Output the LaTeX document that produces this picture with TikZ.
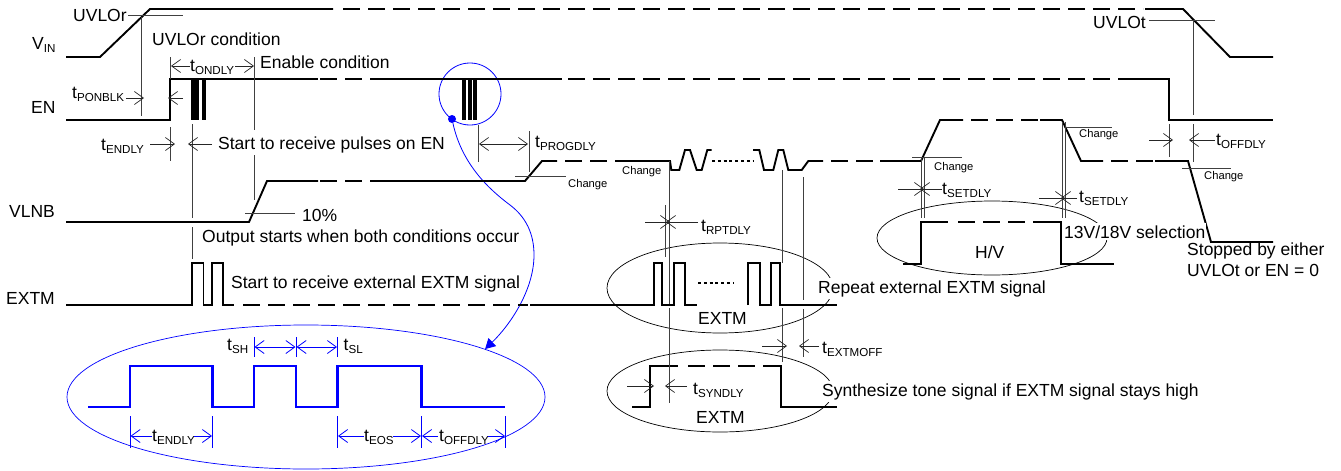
\documentclass[tikz,border=0pt]{standalone}
\usepackage{fontspec}
\setmainfont{Liberation Sans}
\usetikzlibrary{arrows.meta,shapes.geometric}
\newcommand{\lowtxt}[2]{#1\raisebox{-3pt}{\fontsize{11.6}{12}\selectfont #2}}
\begin{document}
\begin{tikzpicture}[x=1pt,y=-1pt,
  wave/.style = {line width=1.9pt,line join=miter},
  dashwave/.style = {wave,dash pattern=on 17pt off 8pt},
  guide/.style = {line width=0.75pt,black!75},
  dimline/.style = {line width=0.7pt,black!85,>={Straight Barb[length=9pt,width=13pt]}},
  lbl/.style = {anchor=base west,inner sep=0pt,font=\fontsize{17.5}{20.5}\selectfont},
  lblw/.style = {lbl,fill=white,inner ysep=2pt,inner xsep=1pt},
  small/.style = {anchor=base west,inner sep=0pt,font=\fontsize{11.2}{13}\selectfont},
  oval/.style = {draw,ellipse,line width=0.7pt,inner sep=0pt},
  bluewave/.style = {wave,blue,line width=2.2pt},
  blueguide/.style = {line width=0.8pt,blue},
  bluedim/.style = {line width=0.8pt,blue,>={Straight Barb[length=9pt,width=13pt]}}]
\useasboundingbox (0,0) rectangle (1341,471);
\node[oval,minimum width=226pt,minimum height=90pt] (ovalrepeat) at (720,288) {};
\node[oval,minimum width=226pt,minimum height=82pt] (ovalsynth) at (720,391) {};
\node[oval,minimum width=230pt,minimum height=74pt] (ovalhv) at (992,238) {};
\node[oval,blue,minimum width=478pt,minimum height=144pt] (ovalzoom) at (306,397) {};
\node[circle,draw=blue,line width=0.8pt,minimum size=62pt,inner sep=0pt] (circzoom) at (470,94) {};
\node[circle,fill=blue,minimum size=8pt,inner sep=0pt] (dotzoom) at (452,119) {};
\draw[blue,line width=0.8pt,-{Triangle[length=10pt,width=11pt]}] (dotzoom) .. controls (462,165) and (490,190) .. (510,205) .. controls (530,220) and (534,240) .. (534,255) .. controls (534,290) and (510,325) .. (ovalzoom.15);
\draw[wave] (66,57) -- (100,57) -- (150,9) -- (333,9);
\draw[dashwave] (343,9) -- (1143,9);
\draw[wave] (1145,9) -- (1183,9) -- (1230,57) -- (1273,57);
\draw[wave] (66,120) -- (170,120) -- (170,79) -- (318,79);
\draw[dashwave] (320,79) -- (373,79);
\draw[wave] (373,79) -- (562,79);
\draw[dashwave] (568,79) -- (1127,79);
\draw[wave] (1127,79) -- (1169,79) -- (1169,120) -- (1273,120);
\foreach \x in {193,197.3,204.2,463.7,470.3,474.7} \draw[line width=3.8pt] (\x,79) -- (\x,120);
\draw[wave] (66,222) -- (249,222) -- (267,181) -- (318,181);
\draw[dashwave] (320,181) -- (373,181);
\draw[wave] (373,181) -- (525,181) -- (542,161) -- (557,161);
\draw[dashwave] (565,161) -- (620,161);
\draw[wave] (620,161) -- (670,161) -- (671.3,170) -- (679.3,170) -- (685,150) -- (690,150) -- (696.7,170) -- (701.7,170) -- (707.3,150) -- (711.7,150);
\draw[line width=1.6pt,dash pattern=on 3pt off 2.8pt] (712,161) -- (753,161);
\draw[wave] (753,150) -- (759.3,150) -- (764,170) -- (773.3,170) -- (778.3,150) -- (783.3,150) -- (788.3,170) -- (801.7,170) -- (808.3,161) -- (823,161);
\draw[dashwave] (831,161) -- (880,161);
\draw[wave] (880,161) -- (921,161) -- (940,120) -- (963,120);
\draw[dashwave] (971,120) -- (1040,120);
\draw[wave] (1040,120) -- (1062,120) -- (1081,161) -- (1103,161);
\draw[dashwave] (1111,161) -- (1155,161);
\draw[wave] (1155,161) -- (1188,161) -- (1211,242) -- (1273,242);
\draw[wave] (66,305) -- (192,305) -- (192,263) -- (203.5,263) -- (203.5,305) -- (212,305) -- (212,263) -- (223,263) -- (223,305) -- (234,305);
\draw[dashwave] (243,305) -- (528,305);
\draw[wave] (530,305) -- (654,305) -- (654,263) -- (662,263) -- (662,305) -- (674,305) -- (674,263) -- (685,263) -- (685,305) -- (697,305);
\draw[line width=1.2pt,dash pattern=on 3pt off 2.8pt] (698,283) -- (733,283);
\draw[wave] (748,305) -- (748,263) -- (760,263) -- (760,305) -- (771,305) -- (771,263) -- (780,263) -- (780,305) -- (837,305);
\draw[wave] (632,407) -- (650,407) -- (650,366) -- (678,366);
\draw[dashwave] (688,366) -- (773,366);
\draw[wave] (773,366) -- (781,366) -- (781,407) -- (837,407);
\draw[wave] (903,264) -- (921,264) -- (921,222) -- (948,222);
\draw[dashwave] (958,222) -- (1045,222);
\draw[wave] (1045,222) -- (1061,222) -- (1061,264) -- (1114,264);
\draw[guide] (128,15) -- (183,15);
\draw[guide] (141,17) -- (141,116);
\draw[guide] (170,57) -- (170,79);
\draw[guide] (170,127) -- (170,161);
\draw[guide] (192,124) -- (192,218);
\draw[guide] (192,227) -- (192,259);
\draw[guide] (254,57) -- (254,130);
\draw[guide] (254,155) -- (254,200);
\draw[guide] (245,213) -- (295,213);
\draw[guide] (478,125) -- (478,162);
\draw[guide] (529,131) -- (529,172);
\draw[guide] (515,176) -- (566,176);
\draw[guide] (669.5,161) -- (669.5,304);
\draw[guide] (669.5,308) -- (669.5,403);
\draw[guide] (665.7,205) -- (665.7,257);
\draw[guide] (782,170) -- (782,263);
\draw[guide] (782,308) -- (782,362);
\draw[guide] (803,177) -- (803,300);
\draw[guide] (803,309) -- (803,357);
\draw[guide] (921,157) -- (921,218);
\draw[guide] (924,157) -- (924,218);
\draw[guide] (912,157) -- (962,157);
\draw[guide] (1062,122) -- (1062,218);
\draw[guide] (1065,122) -- (1065,218);
\draw[guide] (1064,127) -- (1112,127);
\draw[guide] (1149,20) -- (1215,20);
\draw[guide] (1193,20) -- (1193,115);
\draw[guide] (1193,124) -- (1193,162);
\draw[guide] (1169,124) -- (1169,157);
\draw[guide] (1182,168) -- (1231,168);
\node[lbl] (uvlor) at (73,21) {UVLOr};
\node[lbl] (vin) at (32,49) {\lowtxt{V}{IN}};
\node[lbl] (en) at (31,113) {EN};
\node[lbl] (vlnb) at (9,217) {VLNB};
\node[lbl] (extm) at (6,304) {EXTM};
\node[lbl] (uvlorcond) at (152,45) {UVLOr condition};
\node[lbl] (tondly) at (190,71) {\lowtxt{t}{ONDLY}};
\node[lbl] (encond) at (260,68) {Enable condition};
\node[lbl] (tponblk) at (72,98) {\lowtxt{t}{PONBLK}};
\node[lbl] (tendly) at (101,150) {\lowtxt{t}{ENDLY}};
\node[lbl] (startpulse) at (218,149) {Start to receive pulses on EN};
\node[lbl] (tenpct) at (302,221) {10\%};
\node[lbl] (outstart) at (202,242) {Output starts when both conditions occur};
\node[lbl] (startextm) at (231,288) {Start to receive external EXTM signal};
\node[lbl] (tprogdly) at (535,147) {\lowtxt{t}{PROGDLY}};
\node[small] (chg1) at (568,187) {Change};
\node[small] (chg2) at (622,174) {Change};
\node[small] (chg3) at (934,170) {Change};
\node[small] (chg4) at (1079,137) {Change};
\node[small] (chg5) at (1204,179) {Change};
\node[lbl] (trptdly) at (701,231) {\lowtxt{t}{RPTDLY}};
\node[lbl] (tsetdlya) at (942,194) {\lowtxt{t}{SETDLY}};
\node[lbl] (tsetdlyb) at (1079,202) {\lowtxt{t}{SETDLY}};
\node[lblw] (selv) at (1063,238) {13V/18V selection};
\node[lbl] (hv) at (975,258) {H/V};
\node[lbl,align=left,anchor=north west] (stopped) at (1187,243) {Stopped by either\\UVLOt or EN = 0};
\node[lbl] (uvlot) at (1093,28) {UVLOt};
\node[lbl] (toffdly) at (1216,145) {\lowtxt{t}{OFFDLY}};
\node[lbl] (textmoff) at (822,353) {\lowtxt{t}{EXTMOFF}};
\node[lbl] (tsyndly) at (693,394) {\lowtxt{t}{SYNDLY}};
\node[lbl] (extma) at (698,324) {EXTM};
\node[lbl] (extmb) at (696,423) {EXTM};
\node[lblw] (repeatext) at (817,293) {Repeat external EXTM signal};
\node[lblw] (synth) at (821,396) {Synthesize tone signal if EXTM signal stays high};
\draw[dimline,->] (190,66) -- (171,66);
\draw[dimline,->] (235,66) -- (254,66);
\draw[dimline,->] (126,98) -- (144,98);
\draw[dimline,->] (183,98) -- (168,98);
\draw[dimline,->] (150,144) -- (175,144);
\draw[dimline,->] (212,144) -- (188,144);
\draw[dimline,<->] (479,144) -- (528,144);
\draw[dimline,->] (645,222) -- (670,222);
\draw[dimline,->] (698,222) -- (666,222);
\draw[dimline,->] (898,189) -- (924,189);
\draw[dimline,->] (942,189) -- (920,189);
\draw[dimline,->] (1039,198) -- (1065,198);
\draw[dimline,->] (1077,198) -- (1061,198);
\draw[dimline,->] (1149,140) -- (1173,140);
\draw[dimline,->] (1215,140) -- (1189,140);
\draw[dimline,->] (762,346) -- (787,346);
\draw[dimline,->] (819,346) -- (799,346);
\draw[dimline,->] (627,386) -- (654,386);
\draw[dimline,->] (687,386) -- (665,386);
\draw[bluewave] (88,407) -- (130,407) -- (130,366) -- (212.5,366) -- (212.5,407) -- (254,407) -- (254,366) -- (296,366) -- (296,407) -- (337.5,407) -- (337.5,366) -- (421.5,366) -- (421.5,407) -- (505,407);
\foreach \x in {254,296,337.5} \draw[blueguide] (\x,337) -- (\x,357);
\foreach \x in {130,212.5,337.5,421.5,505} \draw[blueguide] (\x,416) -- (\x,448);
\draw[bluedim,<->] (254.5,347) -- (295.5,347);
\draw[bluedim,<->] (296.5,347) -- (337,347);
\node[lbl] (tsh) at (227,350) {\lowtxt{t}{SH}};
\node[lbl] (tsl) at (343.5,350) {\lowtxt{t}{SL}};
\node[lbl] (tendlyb) at (152,441) {\lowtxt{t}{ENDLY}};
\node[lbl] (teos) at (364,441) {\lowtxt{t}{EOS}};
\node[lbl] (toffdlyb) at (439,441) {\lowtxt{t}{OFFDLY}};
\draw[bluedim,->] (152,436) -- (130.5,436);
\draw[bluedim,->] (194,436) -- (212,436);
\draw[bluedim,->] (364,436) -- (338,436);
\draw[bluedim,->] (393,436) -- (421,436);
\draw[bluedim,->] (438,436) -- (422,436);
\draw[bluedim,->] (488,436) -- (505,436);
\end{tikzpicture}
\end{document}
